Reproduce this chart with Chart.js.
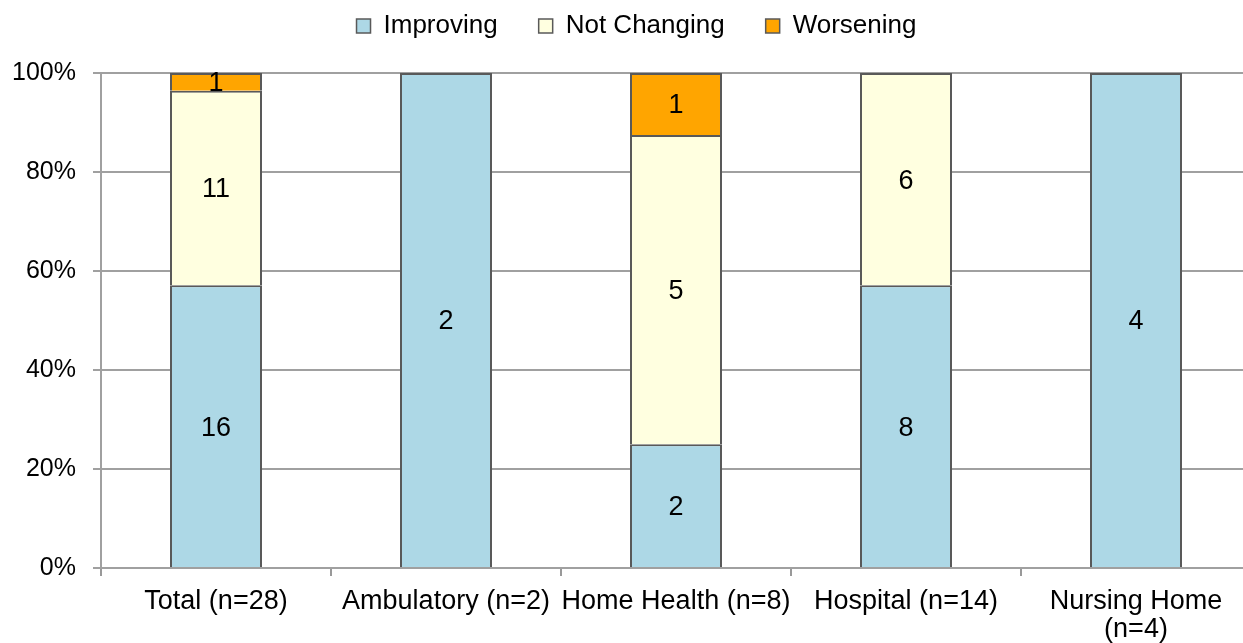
<!DOCTYPE html>
<html>
<head>
<meta charset="utf-8">
<script src="https://cdn.jsdelivr.net/npm/chart.js@4/dist/chart.umd.min.js"></script>
<style>
  html, body { margin: 0; padding: 0; background: #fff; overflow: hidden; }
  #wrap { width: 1243px; height: 643px; overflow: hidden; position: relative; }
  canvas { display: block; }
</style>
</head>
<body>
<div id="wrap"><canvas id="c" width="1260" height="643"></canvas></div>
<script>
const categories = ["Total (n=28)", "Ambulatory (n=2)", "Home Health (n=8)", "Hospital (n=14)", ["Nursing Home", "(n=4)"]];
const seriesNames = ["Improving", "Not Changing", "Worsening"];
const improving = [16, 2, 2, 8, 4];
const notChanging = [11, 0, 5, 6, 0];
const worsening = [1, 0, 1, 0, 0];
const yTicks = [0, 20, 40, 60, 80, 100];
const colors = ["#ADD8E6", "#FFFFE0", "#FFA500"];

const counts = [improving, notChanging, worsening];
const totals = improving.map((v, i) => v + notChanging[i] + worsening[i]);
const pct = arr => arr.map((v, i) => totals[i] ? v / totals[i] * 100 : 0);

const FONT = "'Liberation Sans', Arial, sans-serif";

const labelPlugin = {
  id: 'countLabels',
  afterDatasetsDraw(chart) {
    const ctx = chart.ctx;
    ctx.save();
    ctx.font = "27px " + FONT;
    ctx.fillStyle = "#000";
    ctx.textAlign = "center";
    ctx.textBaseline = "middle";
    chart.data.datasets.forEach((ds, di) => {
      const meta = chart.getDatasetMeta(di);
      meta.data.forEach((bar, i) => {
        const c = ds.counts[i];
        if (!c) return;
        const yc = (bar.y + bar.base) / 2;
        ctx.fillText(String(c), bar.x, yc + 2);
      });
    });
    ctx.restore();
  }
};

const legendFitPlugin = {
  id: 'legendFit',
  beforeInit(chart) {
    const lg = chart.legend;
    if (lg && lg.fit) {
      const orig = lg.fit;
      lg.fit = function () {
        orig.bind(lg)();
        this.height = 73;
      };
      const od = lg.draw;
      lg.draw = function () {
        const ctx = chart.ctx;
        ctx.save();
        ctx.translate(11, -28);
        od.apply(lg, arguments);
        ctx.restore();
      };
    }
  }
};

new Chart(document.getElementById('c'), {
  type: 'bar',
  data: {
    labels: categories,
    datasets: seriesNames.map((name, k) => ({
      label: name,
      data: pct(counts[k]),
      counts: counts[k],
      backgroundColor: colors[k],
      borderColor: "#595959",
      borderWidth: 2,
      borderSkipped: 'start',
      categoryPercentage: 1.0,
      barPercentage: 0.4
    }))
  },
  options: {
    responsive: false,
    animation: false,
    devicePixelRatio: 1,
    layout: { padding: { left: 0, right: 9, top: 0, bottom: 0 } },
    plugins: {
      legend: {
        position: 'top',
        labels: {
          font: { family: FONT, size: 26 },
          color: "#000",
          boxWidth: 14,
          boxHeight: 14,
          padding: 41,
          generateLabels(chart) {
            return chart.data.datasets.map((ds, i) => ({
              text: ds.label,
              fillStyle: ds.backgroundColor,
              strokeStyle: "#595959",
              lineWidth: 1.5,
              datasetIndex: i,
              fontColor: "#000"
            }));
          }
        }
      },
      tooltip: { enabled: false }
    },
    scales: {
      x: {
        stacked: true,
        offset: true,
        grid: {
          offset: true,
          drawOnChartArea: false,
          drawTicks: true,
          tickLength: 8,
          color: "#999",
          lineWidth: 2
        },
        border: { display: false },
        ticks: {
          font: { family: FONT, size: 27, lineHeight: 1.05 },
          color: "#000",
          padding: 11,
          maxRotation: 0,
          autoSkip: false
        },
        afterFit(scale) { scale.height = 75; }
      },
      y: {
        stacked: true,
        min: 0,
        max: 100,
        afterBuildTicks(scale) { scale.ticks = yTicks.map(v => ({ value: v })); },
        grid: {
          color: "#a0a0a0",
          lineWidth: 2,
          tickLength: 8
        },
        border: { display: true, color: "#a0a0a0", width: 2 },
        ticks: {
          font: { family: FONT, size: 25 },
          color: "#000",
          padding: 17,
          callback: v => v + "%"
        },
        afterFit(scale) { scale.width = 101; }
      }
    }
  },
  plugins: [legendFitPlugin, labelPlugin]
});
</script>
</body>
</html>
